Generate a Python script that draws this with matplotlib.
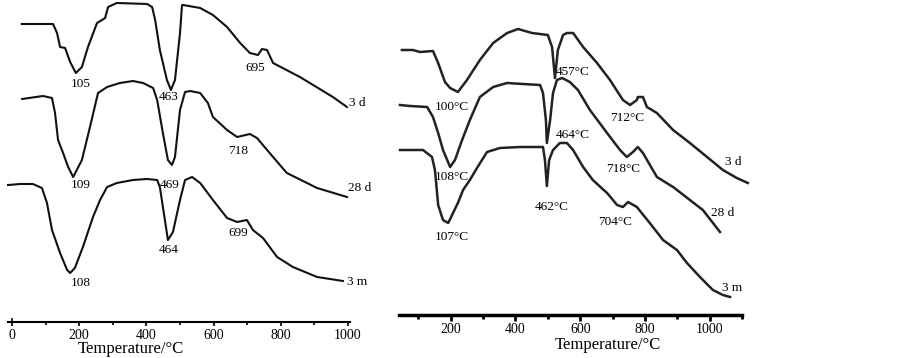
import matplotlib.pyplot as plt
from matplotlib.ticker import MultipleLocator

plt.rcParams['font.family'] = ['Liberation Serif', 'DejaVu Serif']

# ---- left panel: DTA curves (temperature in C, signal in arb. units) ----
l3d_t = [29, 122, 134, 143, 158, 173, 190, 208, 226, 253, 268, 277, 286, 312, 402, 417, 426, 440,
         461, 473, 485, 500, 506, 509, 560, 598, 640, 679, 708, 732, 744, 759, 777, 857, 955, 997]
l3d_s = [298, 298, 289, 275, 274, 260, 249, 255, 275, 299, 302, 304, 315, 319, 318, 315, 302, 272,
         242, 232, 242, 289, 317, 317, 314, 307, 295, 279, 269, 267, 273, 272, 259, 245, 225, 215]

l28d_t = [30, 92, 119, 128, 137, 152, 167, 182, 208, 232, 256, 283, 321, 360, 390, 420, 432, 449,
          464, 476, 485, 500, 515, 530, 560, 583, 598, 640, 670, 708, 729, 777, 818, 908, 997]
l28d_s = [223, 226, 224, 209, 182, 169, 155, 145, 162, 195, 229, 235, 239, 241, 239, 234, 222, 189,
          162, 157, 165, 212, 230, 231, 229, 219, 205, 192, 185, 188, 184, 165, 149, 134, 125]

l3m_t = [-12, 24, 62, 89, 104, 119, 143, 164, 173, 187, 211, 241, 262, 283, 312, 360, 402, 432,
         440, 455, 464, 479, 500, 515, 536, 560, 598, 640, 670, 699, 717, 747, 789, 836, 908, 985]
l3m_s = [137, 138, 138, 134, 119, 92, 69, 52, 49, 54, 75, 105, 122, 135, 139, 142, 143, 142,
         135, 102, 82, 90, 122, 142, 145, 139, 122, 104, 100, 102, 92, 84, 65, 55, 45, 41]

left_labels = ["105", "463", "695", "3 d", "109", "469", "718", "28 d", "108", "464", "699", "3 m"]
left_lab_t = [205, 467, 723, 1027, 205, 470, 673, 1036, 205, 467, 673, 1027]
left_lab_s = [238, 225, 254, 219, 137, 137, 171, 134, 39, 72, 89, 40]

# ---- right panel ----
r3d_t = [49, 83, 105, 145, 161, 182, 198, 222, 250, 290, 331, 374, 408, 451, 500, 513, 522, 531,
         547, 559, 578, 609, 652, 692, 732, 754, 775, 778, 794, 806, 837, 887, 939, 992, 1041,
         1084, 1118]
r3d_s = [265, 265, 263, 264, 252, 233, 227, 223, 235, 255, 272, 282, 286, 282, 280, 268, 237, 265,
         280, 282, 282, 268, 252, 235, 215, 210, 215, 218, 218, 208, 202, 185, 172, 158, 145,
         137, 132]

r28d_t = [43, 74, 127, 145, 161, 176, 198, 213, 235, 259, 290, 331, 374, 423, 476, 485, 494, 497,
          507, 516, 528, 544, 568, 593, 630, 683, 723, 744, 763, 778, 794, 837, 887, 939, 979, 1032]
r28d_s = [210, 209, 208, 198, 182, 165, 148, 155, 175, 195, 218, 228, 232, 231, 230, 222, 195, 172,
          195, 222, 235, 237, 233, 225, 205, 182, 165, 158, 163, 168, 162, 138, 128, 115, 105, 83]

r3m_t = [43, 114, 142, 151, 154, 161, 176, 192, 207, 222, 238, 259, 281, 312, 352, 414, 485, 491,
         497, 504, 516, 537, 559, 578, 609, 639, 683, 714, 732, 748, 775, 815, 856, 899, 930, 970,
         1010, 1041, 1063]
r3m_s = [165, 165, 158, 145, 135, 110, 95, 92, 102, 112, 125, 135, 147, 163, 167, 168, 168, 155,
         129, 155, 165, 172, 172, 165, 148, 135, 122, 110, 108, 113, 108, 92, 75, 65, 52, 38,
         25, 20, 18]

right_labels = ["457°C", "100°C", "712°C", "3 d", "108°C", "464°C", "718°C", "28 d",
                "107°C", "462°C", "704°C", "3 m"]
right_lab_t = [578, 204, 744, 1072, 204, 578, 732, 1041, 204, 513, 707, 1069]
right_lab_s = [243, 208, 197, 153, 138, 180, 146, 102, 78, 108, 93, 27]

fig = plt.figure(figsize=(9.02, 3.58), dpi=100)

# left axes
ax1 = fig.add_axes([8 / 902, 36 / 358, 342 / 902, 322 / 358])
for t, s in [(l3d_t, l3d_s), (l28d_t, l28d_s), (l3m_t, l3m_s)]:
    ax1.plot(t, s, color='#111111', lw=1.5, clip_on=False)
for lab, t, s in zip(left_labels, left_lab_t, left_lab_s):
    ax1.text(t, s, lab, fontsize=9.5, ha='center', va='center', clip_on=False)
ax1.set_xlim(-12, 1006)
ax1.set_ylim(0, 322)
ax1.xaxis.set_major_locator(MultipleLocator(200))
ax1.xaxis.set_minor_locator(MultipleLocator(100))
ax1.tick_params(axis='x', which='major', direction='out', length=3, width=1.2, labelsize=10, pad=2)
ax1.tick_params(axis='x', which='minor', direction='out', length=2, width=1.2)
ax1.set_xlabel('Temperature/°C', fontsize=12, labelpad=0)
ax1.xaxis.set_label_coords(0.36, -0.060)
ax1.set_yticks([])
for sp in ['top', 'right', 'left']:
    ax1.spines[sp].set_visible(False)
ax1.spines['bottom'].set_linewidth(1.5)
ax1.plot([0, 0], [0, 3], color='black', lw=1.2, clip_on=False)

# right axes
ax2 = fig.add_axes([399 / 902, 43 / 358, 343 / 902, 315 / 358])
for t, s in [(r3d_t, r3d_s), (r28d_t, r28d_s), (r3m_t, r3m_s)]:
    ax2.plot(t, s, color='#222222', lw=1.8, clip_on=False)
for lab, t, s in zip(right_labels, right_lab_t, right_lab_s):
    ax2.text(t, s, lab, fontsize=9.5, ha='center', va='center', clip_on=False)
ax2.set_xlim(40, 1100)
ax2.set_ylim(0, 315)
ax2.set_xticks([200, 400, 600, 800, 1000])
ax2.set_xticks(list(range(100, 1101, 200)), minor=True)
ax2.tick_params(axis='x', which='major', direction='out', length=4, width=2, labelsize=10, pad=2)
ax2.tick_params(axis='x', which='minor', direction='out', length=3, width=2)
ax2.set_xlabel('Temperature/°C', fontsize=12, labelpad=0)
ax2.xaxis.set_label_coords(0.61, -0.070)
ax2.set_yticks([])
for sp in ['top', 'right', 'left']:
    ax2.spines[sp].set_visible(False)
ax2.spines['bottom'].set_linewidth(2.5)

fig.savefig('out.png', dpi=100)
